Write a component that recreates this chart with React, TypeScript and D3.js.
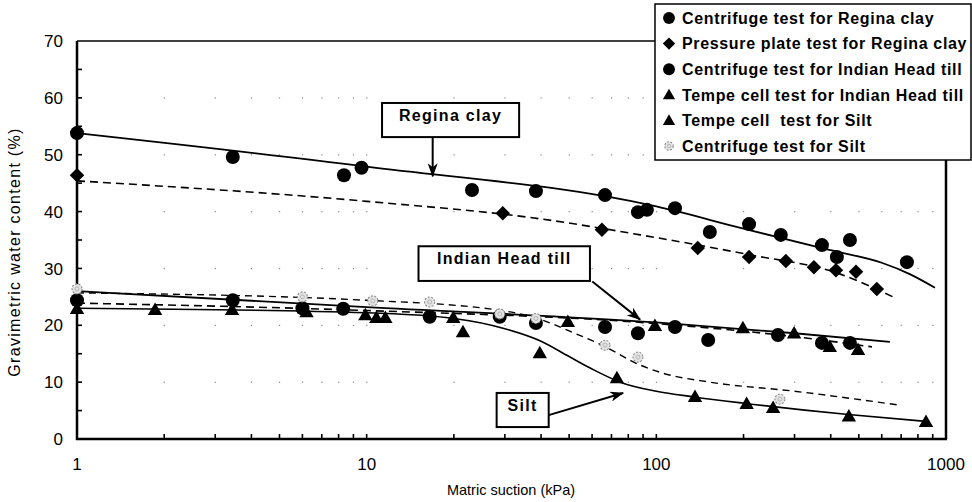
import React from 'react';
import * as d3 from 'd3';

// [matric suction kPa, gravimetric water content %]
const reginaCentrifuge: [number, number][] = [
  [1, 53.8], [3.45, 49.6], [8.35, 46.4], [9.6, 47.7], [23.1, 43.8], [38.4, 43.6],
  [66.5, 42.9], [86.4, 39.9], [92.8, 40.3], [116, 40.6], [153, 36.4], [209, 37.8],
  [269, 35.9], [373, 34.1], [420, 32.0], [466, 35.0], [733, 31.1],
];
const reginaPressure: [number, number][] = [
  [1, 46.4], [29.5, 39.7], [64.9, 36.8], [139, 33.6], [209, 32.0], [280, 31.3],
  [350, 30.2], [417, 29.7], [489, 29.4], [577, 26.4],
];
const headCentrifuge: [number, number][] = [
  [1, 24.4], [3.45, 24.4], [6.0, 23.0], [8.3, 22.9], [16.5, 21.5], [28.8, 21.5],
  [38.4, 20.4], [66.5, 19.7], [86.4, 18.6], [116, 19.7], [151, 17.4], [263, 18.3],
  [373, 16.9], [466, 16.9],
];
const headTempe: [number, number][] = [
  [9.9, 21.8], [11.6, 21.3], [19.9, 21.3], [49.5, 20.6], [98.9, 19.9], [199, 19.5],
  [299, 18.6], [397, 16.2], [497, 15.7],
];
const siltTempe: [number, number][] = [
  [1, 22.9], [1.86, 22.7], [3.43, 22.7], [6.2, 22.3], [10.8, 21.3], [21.5, 18.8],
  [39.6, 15.1], [73.1, 10.7], [136, 7.4], [205, 6.2], [253, 5.5], [462, 4.0], [853, 3.0],
];
const siltCentrifuge: [number, number][] = [
  [1, 26.4], [6.0, 25.0], [10.5, 24.3], [16.5, 24.1], [28.8, 22.0], [38.4, 21.2],
  [66.5, 16.5], [86.4, 14.4], [267, 7.0],
];

// fitted curves
const reginaFit: [number, number][] = [
  [1, 53.8], [10, 47.9], [100, 40.9], [200, 37.0], [400, 33.2], [600, 31.0], [750, 29.0], [916, 26.6],
];
const reginaPressureFit: [number, number][] = [
  [1, 45.4], [10, 41.8], [40, 38.7], [88, 35.9], [210, 32.4], [420, 29.2], [656, 25.0],
];
const headFit: [number, number][] = [
  [1, 26.0], [10, 23.2], [100, 20.5], [300, 18.6], [640, 17.1],
];
const headTempeFit: [number, number][] = [
  [1, 23.9], [10, 22.6], [100, 20.3], [300, 18.0], [555, 16.2],
];
const siltFit: [number, number][] = [
  [1, 23.0], [10, 22.2], [20, 21.2], [30, 19.4], [40, 17.2], [50, 14.5], [60, 12.3],
  [75, 10.0], [100, 8.4], [135, 7.4], [200, 6.3], [460, 4.3], [850, 3.1],
];
const siltCentrifugeFit: [number, number][] = [
  [1, 25.7], [10, 24.4], [30, 22.5], [40, 21.0], [50, 19.0], [65, 16.5], [88, 13.0],
  [105, 11.6], [153, 10.0], [300, 8.4], [682, 6.0],
];

const legendLabels = [
  'Centrifuge test for Regina clay',
  'Pressure plate test for Regina clay',
  'Centrifuge test for Indian Head till',
  'Tempe cell test for Indian Head till',
  'Tempe cell  test for Silt',
  'Centrifuge test for Silt',
];
const legendShapes = ['circle', 'diamond', 'circle', 'triangle', 'triangle', 'speckle'];

const xTickLabels = [1, 10, 100, 1000];
const yTickLabels = [0, 10, 20, 30, 40, 50, 60, 70];

const Marker = ({ shape, cx, cy, s = 1 }: { shape: string; cx: number; cy: number; s?: number }) => {
  if (shape === 'circle') return <circle cx={cx} cy={cy} r={7 * s} fill="#000" />;
  if (shape === 'diamond')
    return <path d={d3.symbol(d3.symbolSquare, 105 * s * s)()!} transform={`translate(${cx},${cy}) rotate(45)`} fill="#000" />;
  if (shape === 'triangle')
    return <path d={d3.symbol(d3.symbolTriangle, 90 * s * s)()!} transform={`translate(${cx},${cy + 1})`} fill="#000" />;
  return (
    <g>
      <circle cx={cx} cy={cy} r={5 * s} fill="#e4e4e4" stroke="#8a8a8a" strokeWidth={1.1} strokeDasharray="2,1.5" />
      <circle cx={cx} cy={cy} r={2 * s} fill="none" stroke="#aaa" strokeWidth={0.8} />
    </g>
  );
};

export default function App() {
  const x = d3.scaleLog().domain([1, 1000]).range([77, 946]);
  const y = d3.scaleLinear().domain([0, 70]).range([439, 41]);
  const curve = d3.line<[number, number]>().x(d => x(d[0])).y(d => y(d[1])).curve(d3.curveMonotoneX);

  const xMinor: number[] = [];
  [1, 10, 100].forEach(dec => { for (let k = 2; k <= 10; k++) xMinor.push(dec * k); });
  const yMinor = d3.range(5, 70, 5);
  const gridY = [10, 20, 30, 40, 50, 60];

  const fontA = 'Arial, "Liberation Sans", Helvetica, sans-serif';

  const annot = [
    { text: 'Regina clay', x0: 11.3, x1: 33.6, y0: 59.1, y1: 53.1, from: [16.9, 53.1], to: [16.9, 46.2] },
    { text: 'Indian Head till', x0: 15.1, x1: 59.0, y0: 33.9, y1: 27.8, from: [60.1, 27.7], to: [87.9, 21.0] },
    { text: 'Silt', x0: 28.1, x1: 42.5, y0: 8.1, y1: 2.1, from: [42.5, 4.2], to: [76.8, 8.1] },
  ];

  const series: { data: [number, number][]; shape: string }[] = [
    { data: reginaCentrifuge, shape: 'circle' },
    { data: reginaPressure, shape: 'diamond' },
    { data: headCentrifuge, shape: 'circle' },
    { data: headTempe, shape: 'triangle' },
    { data: siltTempe, shape: 'triangle' },
    { data: siltCentrifuge, shape: 'speckle' },
  ];

  return (
    <svg width={972} height={502} style={{ position: 'absolute', left: 0, top: 0, background: '#fff' }} fontFamily={fontA}>
      <defs>
        <marker id="arr" viewBox="0 0 14 10" refX="13" refY="5" markerWidth="14" markerHeight="10" markerUnits="userSpaceOnUse" orient="auto">
          <path d="M0,0 L14,5 L0,10 L4,5 Z" fill="#000" />
        </marker>
      </defs>
      <rect width={972} height={502} fill="#fff" />

      {/* dotted grid */}
      {gridY.map(g =>
        xMinor.filter(v => v < 1000).map(v => (
          <rect key={`${g}-${v}`} x={x(v) - 0.5} y={y(g) - 0.5} width={1.2} height={1.2} fill="#888" />
        ))
      )}

      {/* frame */}
      <line x1={77} x2={946} y1={y(70)} y2={y(70)} stroke="#000" strokeWidth={1.5} />
      <line x1={946} x2={946} y1={y(70)} y2={y(0)} stroke="#000" strokeWidth={2.5} />
      <line x1={77} x2={77} y1={y(70)} y2={y(0) + 1} stroke="#000" strokeWidth={2.5} />
      <line x1={76} x2={947} y1={y(0)} y2={y(0)} stroke="#000" strokeWidth={2.5} />

      {yMinor.map(v => (
        <line key={v} x1={77} x2={82} y1={y(v)} y2={y(v)} stroke="#000" strokeWidth={1.6} />
      ))}
      {xMinor.map(v => (
        <line key={v} x1={x(v)} x2={x(v)} y1={y(0)} y2={y(0) - 5} stroke="#000" strokeWidth={1.6} />
      ))}

      {yTickLabels.map(v => (
        <text key={v} x={63} y={y(v)} dy="0.36em" textAnchor="end" fontSize={17}>{v}</text>
      ))}
      {xTickLabels.map(v => (
        <text key={v} x={x(v)} y={464} dy="0.36em" textAnchor="middle" fontSize={17}>{v}</text>
      ))}

      <text x={511} y={490} dy="0.36em" textAnchor="middle" fontSize={14.5}>Matric suction (kPa)</text>
      <text transform={`translate(14,252) rotate(-90)`} dy="0.36em" textAnchor="middle" fontSize={16} letterSpacing={1.3}>Gravimetric water content (%)</text>

      {/* fitted lines */}
      <path d={curve(reginaFit)!} fill="none" stroke="#000" strokeWidth={1.8} />
      <path d={curve(reginaPressureFit)!} fill="none" stroke="#000" strokeWidth={1.6} strokeDasharray="8,5" />
      <path d={curve(headFit)!} fill="none" stroke="#000" strokeWidth={1.8} />
      <path d={curve(headTempeFit)!} fill="none" stroke="#000" strokeWidth={1.6} strokeDasharray="8,5" />
      <path d={curve(siltFit)!} fill="none" stroke="#000" strokeWidth={1.6} />
      <path d={curve(siltCentrifugeFit)!} fill="none" stroke="#000" strokeWidth={1.4} strokeDasharray="7,5" />

      {/* points */}
      {series.map((s, i) =>
        s.data.map((d, j) => <Marker key={`${i}-${j}`} shape={s.shape} cx={x(d[0])} cy={y(d[1])} />)
      )}

      {/* annotations */}
      {annot.map(a => (
        <g key={a.text}>
          <rect x={x(a.x0)} y={y(a.y0)} width={x(a.x1) - x(a.x0)} height={y(a.y1) - y(a.y0)} fill="#fff" stroke="#000" strokeWidth={2} />
          <text x={(x(a.x0) + x(a.x1)) / 2} y={y(a.y0) + 12} dy="0.36em" textAnchor="middle" fontSize={16} fontWeight="bold" letterSpacing={1.3}>{a.text}</text>
          <line x1={x(a.from[0])} y1={y(a.from[1])} x2={x(a.to[0])} y2={y(a.to[1])} stroke="#000" strokeWidth={2} markerEnd="url(#arr)" />
        </g>
      ))}

      {/* legend */}
      <rect x={655} y={4} width={316} height={156} fill="#fff" stroke="#000" strokeWidth={1.5} />
      {legendLabels.map((lab, i) => (
        <g key={lab}>
          <Marker shape={legendShapes[i]} cx={669} cy={18 + i * 25.6} s={0.85} />
          <text x={682} y={18 + i * 25.6} dy="0.36em" fontSize={16} fontWeight="bold" letterSpacing={0.65} style={{ whiteSpace: 'pre' }}>{lab}</text>
        </g>
      ))}
    </svg>
  );
}
